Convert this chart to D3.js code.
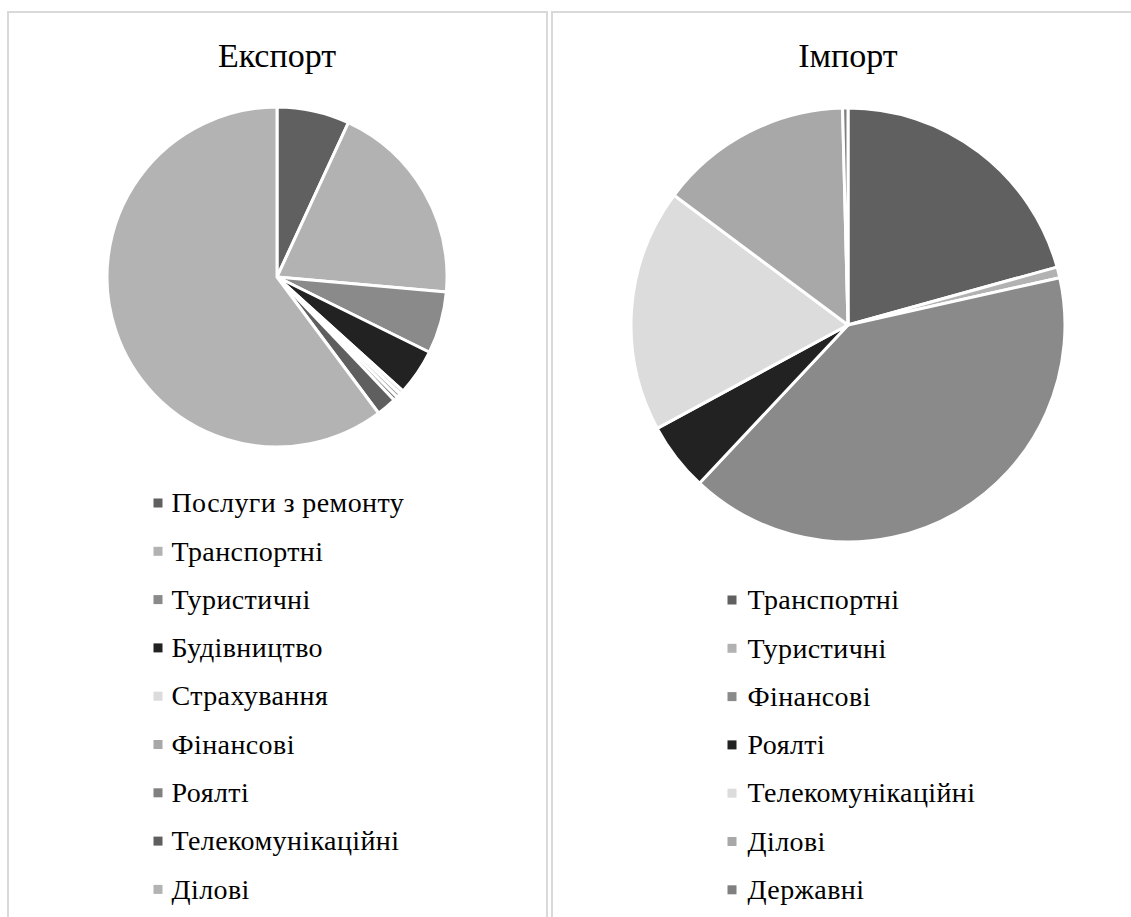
<!DOCTYPE html>
<html><head><meta charset="utf-8">
<script src="https://cdn.jsdelivr.net/npm/d3@7"></script>
<style>body{margin:0;background:#fff}svg{display:block}</style>
</head><body>
<script>
const exportCategories = ["Послуги з ремонту","Транспортні","Туристичні","Будівництво","Страхування","Фінансові","Роялті","Телекомунікаційні","Ділові"];
const exportValues = [6.9,19.5,5.9,4.4,0.4,0.4,0.4,1.9,60.2];
const exportColors = ["#606060","#b2b2b2","#8a8a8a","#222222","#dcdcdc","#a8a8a8","#808080","#5f5f5f","#b3b3b3"];
const importCategories = ["Транспортні","Туристичні","Фінансові","Роялті","Телекомунікаційні","Ділові","Державні"];
const importValues = [20.7,0.8,40.5,5.1,18.1,14.4,0.4];
const importColors = ["#606060","#b2b2b2","#8a8a8a","#222222","#dcdcdc","#a8a8a8","#808080"];

const W=1131,H=917;
const FONT='"Liberation Serif"';
const STEP=48.3;
const svg=d3.select("body").append("svg").attr("width",W).attr("height",H);

function panel(cfg){
  const g=svg.append("g");
  g.append("rect").attr("x",cfg.x).attr("y",12).attr("width",cfg.w).attr("height",H+20)
    .attr("fill","#fff").attr("stroke","#d9d9d9").attr("stroke-width",2);
  g.append("text").attr("x",cfg.cx).attr("y",67).attr("text-anchor","middle")
    .style("font-family",FONT).style("font-size","34px").attr("fill","#000").text(cfg.title);
  const data=cfg.cats.map((c,i)=>({c,v:cfg.vals[i],col:cfg.cols[i]}));
  const pie=d3.pie().sort(null).value(d=>d.v);
  const arc=d3.arc().innerRadius(0).outerRadius(cfg.r);
  g.append("g").attr("transform",`translate(${cfg.cx},${cfg.cy})`)
    .selectAll("path").data(pie(data)).join("path")
    .attr("d",arc).attr("fill",d=>d.data.col).attr("stroke","#fff").attr("stroke-width",3).attr("stroke-linejoin","round");
  const ly=d3.scalePoint().domain(cfg.cats).range([cfg.ly0,cfg.ly0+STEP*(cfg.cats.length-1)]);
  const lg=g.append("g");
  const items=lg.selectAll("g").data(data).join("g").attr("transform",d=>`translate(${cfg.lx},${ly(d.c)})`);
  items.append("rect").attr("x",0).attr("y",-4.5).attr("width",9).attr("height",9).attr("fill",d=>d.col);
  items.append("text").attr("x",cfg.tx).attr("y",0).attr("dy","0.33em")
    .style("font-family",FONT).style("font-size","28px").style("letter-spacing","0.4px").attr("fill","#000").text(d=>d.c);
}
panel({x:8,w:539,cx:277,cy:277,r:170,title:"Експорт",cats:exportCategories,vals:exportValues,cols:exportColors,lx:153.5,tx:18,ly0:503});
panel({x:552,w:600,cx:848,cy:325,r:217,title:"Імпорт",cats:importCategories,vals:importValues,cols:importColors,lx:727.5,tx:20,ly0:600});
</script>
</body></html>
